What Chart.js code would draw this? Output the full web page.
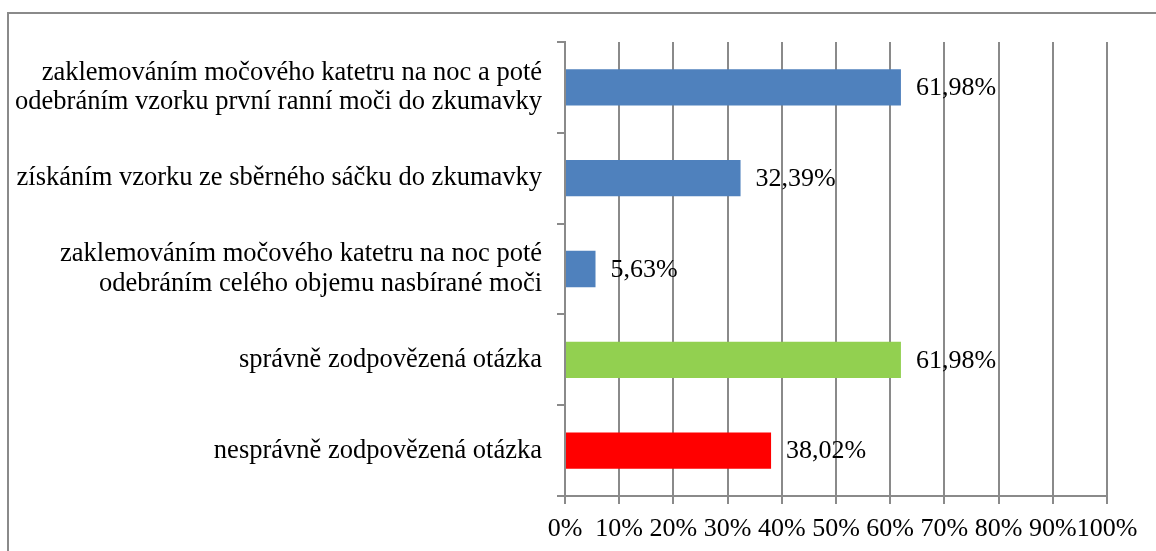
<!DOCTYPE html>
<html>
<head>
<meta charset="utf-8">
<script src="https://cdn.jsdelivr.net/npm/chart.js@4"></script>
<style>
  body { margin: 0; background: #fff; }
</style>
</head>
<body>
<canvas id="myChart" width="1156" height="551"></canvas>
<script>
// category labels (multi-line where the reference wraps)
const categories = [
    ['zaklemováním močového katetru na noc a poté', 'odebráním vzorku první ranní moči do zkumavky'],
    'získáním vzorku ze sběrného sáčku do zkumavky',
    ['zaklemováním močového katetru na noc poté', 'odebráním celého objemu nasbírané moči'],
    'správně zodpovězená otázka',
    'nesprávně zodpovězená otázka'
];
const percentValues = [61.98, 32.39, 5.63, 61.98, 38.02];
const xTickValues = [0, 10, 20, 30, 40, 50, 60, 70, 80, 90, 100];

const barColors = ['#4F81BD', '#4F81BD', '#4F81BD', '#92D050', '#FF0000'];
const gridGray = '#8a8a8a';
const serif = '"Liberation Serif", "Times New Roman", serif';

// frame around the whole picture (right/bottom edges fall outside)
const framePlugin = {
    id: 'frame',
    beforeDraw(chart) {
        const ctx = chart.ctx;
        ctx.save();
        ctx.fillStyle = '#fff';
        ctx.fillRect(0, 0, chart.width, chart.height);
        ctx.strokeStyle = gridGray;
        ctx.lineWidth = 2;
        ctx.strokeRect(8, 13, chart.width + 20, chart.height + 20);
        ctx.restore();
    }
};

// value labels to the right of each bar
const valueLabelPlugin = {
    id: 'valueLabels',
    afterDatasetsDraw(chart) {
        const ctx = chart.ctx;
        const meta = chart.getDatasetMeta(0);
        ctx.save();
        ctx.font = '26px ' + serif;
        ctx.fillStyle = '#000';
        ctx.textAlign = 'left';
        ctx.textBaseline = 'middle';
        meta.data.forEach((bar, i) => {
            const txt = percentValues[i].toFixed(2).replace('.', ',') + '%';
            ctx.fillText(txt, bar.x + 15, bar.y + 1);
        });
        ctx.restore();
    }
};

const ctx = document.getElementById('myChart').getContext('2d');
const chart = new Chart(ctx, {
    type: 'bar',
    data: {
        labels: categories,
        datasets: [{
            data: percentValues,
            backgroundColor: barColors,
            borderWidth: 0,
            categoryPercentage: 1,
            barPercentage: 0.4
        }]
    },
    options: {
        indexAxis: 'y',
        responsive: false,
        animation: false,
        layout: {
            padding: { top: 42, right: 49, left: 0, bottom: 0 }
        },
        plugins: {
            legend: { display: false },
            tooltip: { enabled: false }
        },
        scales: {
            x: {
                min: 0,
                max: 100,
                afterBuildTicks(scale) {
                    scale.ticks = xTickValues.map(v => ({ value: v }));
                },
                afterFit(scale) {
                    scale.height = 55;
                },
                grid: {
                    color: gridGray,
                    lineWidth: 2,
                    drawTicks: true,
                    tickLength: 8
                },
                border: { color: gridGray, width: 2 },
                ticks: {
                    autoSkip: false,
                    maxRotation: 0,
                    padding: 10,
                    color: '#000',
                    font: { family: serif, size: 26 },
                    callback: v => v + '%'
                }
            },
            y: {
                afterFit(scale) {
                    scale.width = 565;
                },
                grid: {
                    drawOnChartArea: false,
                    color: gridGray,
                    lineWidth: 2,
                    tickLength: 8
                },
                border: { color: gridGray, width: 2 },
                ticks: {
                    padding: 15,
                    color: '#000',
                    font: { family: serif, size: 26.5, lineHeight: 1.12 }
                }
            }
        }
    },
    plugins: [framePlugin, valueLabelPlugin]
});
</script>
</body>
</html>
